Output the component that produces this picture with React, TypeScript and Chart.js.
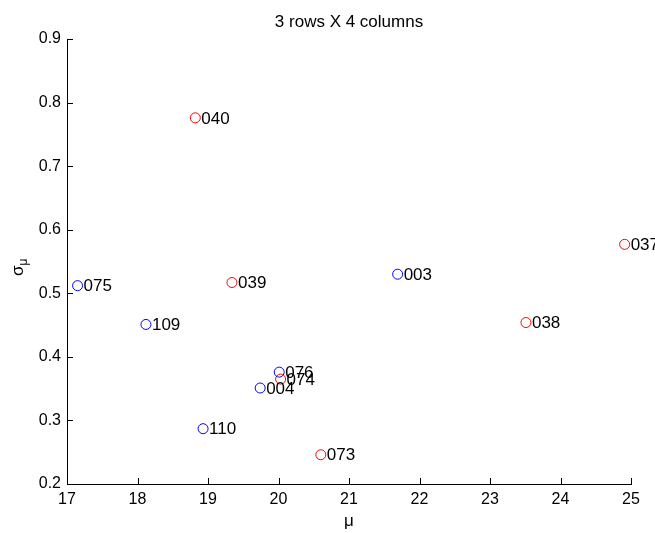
import React, { useEffect, useRef } from 'react';
import { Chart, registerables } from 'chart.js';

Chart.register(...registerables);

const chartTitle = '3 rows X 4 columns';
const pointIds = ['040', '039', '075', '109', '076', '074', '004', '110', '073', '003', '038', '037'];
const muValues = [18.82, 19.34, 17.15, 18.12, 20.01, 20.03, 19.74, 18.93, 20.6, 21.69, 23.51, 24.91];
const sigmaValues = [0.776, 0.517, 0.512, 0.451, 0.376, 0.365, 0.351, 0.287, 0.246, 0.53, 0.454, 0.577];
const groups = ['red', 'red', 'blue', 'blue', 'blue', 'red', 'blue', 'blue', 'red', 'blue', 'red', 'red'];
const xTicks = [17, 18, 19, 20, 21, 22, 23, 24, 25];
const yTicks = [0.2, 0.3, 0.4, 0.5, 0.6, 0.7, 0.8, 0.9];

const FONT = '"Liberation Sans", Arial, Helvetica, sans-serif';
const groupColors: Record<string, string> = { blue: '#0000ff', red: '#ff0000' };

function pointsFor(group: string) {
  const out: { x: number; y: number }[] = [];
  for (let i = 0; i < pointIds.length; i++) {
    if (groups[i] === group) out.push({ x: muValues[i], y: sigmaValues[i] });
  }
  return out;
}

const matlabPlugin = {
  id: 'matlabDecor',
  afterDatasetsDraw(chart: any) {
    const { ctx, scales } = chart;
    const xs = scales.x;
    const ys = scales.y;
    ctx.save();
    ctx.fillStyle = '#000';
    ctx.font = `17px ${FONT}`;
    ctx.textAlign = 'left';
    ctx.textBaseline = 'middle';
    for (let i = 0; i < pointIds.length; i++) {
      const px = xs.getPixelForValue(muValues[i]);
      const py = ys.getPixelForValue(sigmaValues[i]);
      ctx.fillText(pointIds[i], px + 6, py + 1);
    }
    ctx.restore();
  },
  afterDraw(chart: any) {
    const { ctx, chartArea, scales } = chart;
    const xs = scales.x;
    const ys = scales.y;
    ctx.save();
    ctx.strokeStyle = '#000';
    ctx.lineWidth = 1;
    ctx.beginPath();
    for (const v of xTicks) {
      const px = Math.round(xs.getPixelForValue(v)) + 0.5;
      ctx.moveTo(px, chartArea.bottom);
      ctx.lineTo(px, chartArea.bottom - 6);
    }
    for (const v of yTicks) {
      const py = Math.round(ys.getPixelForValue(v)) + 0.5;
      ctx.moveTo(chartArea.left, py);
      ctx.lineTo(chartArea.left + 6, py);
    }
    ctx.stroke();

    const cx = (chartArea.left + chartArea.right) / 2;
    ctx.fillStyle = '#000';
    ctx.font = `17px ${FONT}`;
    ctx.textAlign = 'center';
    ctx.textBaseline = 'middle';
    ctx.fillText(chartTitle, cx, 22);

    ctx.font = `17px ${FONT}`;
    ctx.fillText('\u03bc', cx, 521);

    ctx.translate(18, 271);
    ctx.rotate(-Math.PI / 2);
    ctx.textAlign = 'left';
    ctx.textBaseline = 'alphabetic';
    ctx.font = `17px ${FONT}`;
    ctx.fillText('\u03c3', -5, 5);
    const w = ctx.measureText('\u03c3').width;
    ctx.font = `12px ${FONT}`;
    ctx.fillText('\u03bc', -5 + w, 9);
    ctx.restore();
  },
};

export default function App() {
  const canvasRef = useRef<HTMLCanvasElement | null>(null);

  useEffect(() => {
    if (!canvasRef.current) return;
    const chart = new Chart(canvasRef.current, {
      type: 'scatter',
      data: {
        datasets: [
          {
            label: 'blue',
            data: pointsFor('blue'),
            borderColor: groupColors.blue,
            backgroundColor: 'rgba(0,0,0,0)',
            pointRadius: 5,
            pointHoverRadius: 5,
            borderWidth: 1,
            pointStyle: 'circle',
          },
          {
            label: 'red',
            data: pointsFor('red'),
            borderColor: groupColors.red,
            backgroundColor: 'rgba(0,0,0,0)',
            pointRadius: 5,
            pointHoverRadius: 5,
            borderWidth: 1,
            pointStyle: 'circle',
          },
        ],
      },
      options: {
        responsive: false,
        animation: false,
        events: [],
        layout: { padding: { top: 39, right: 24, left: 0, bottom: 0 } },
        plugins: {
          legend: { display: false },
          tooltip: { enabled: false },
          title: { display: false },
        },
        scales: {
          x: {
            type: 'linear',
            min: 17,
            max: 25,
            afterFit: (s: any) => {
              s.height = 49;
            },
            afterBuildTicks: (s: any) => {
              s.ticks = xTicks.map((v) => ({ value: v }));
            },
            grid: { display: false, drawTicks: false },
            border: { display: true, color: '#000', width: 1 },
            ticks: {
              color: '#000',
              font: { family: FONT, size: 16 },
              padding: 6,
              maxRotation: 0,
              autoSkip: false,
              callback: (v: any) => String(v),
            },
          },
          y: {
            type: 'linear',
            min: 0.2,
            max: 0.9,
            afterFit: (s: any) => {
              s.width = 67;
            },
            afterBuildTicks: (s: any) => {
              s.ticks = yTicks.map((v) => ({ value: v }));
            },
            grid: { display: false, drawTicks: false },
            border: { display: true, color: '#000', width: 1 },
            ticks: {
              color: '#000',
              font: { family: FONT, size: 16 },
              padding: 6,
              autoSkip: false,
              callback: (v: any) => Number(v).toFixed(1),
            },
          },
        },
      },
      plugins: [matlabPlugin],
    });
    return () => chart.destroy();
  }, []);

  return (
    <div style={{ position: 'absolute', left: 0, top: 0, width: 655, height: 533, background: '#fff' }}>
      <canvas ref={canvasRef} width={655} height={533} />
    </div>
  );
}
